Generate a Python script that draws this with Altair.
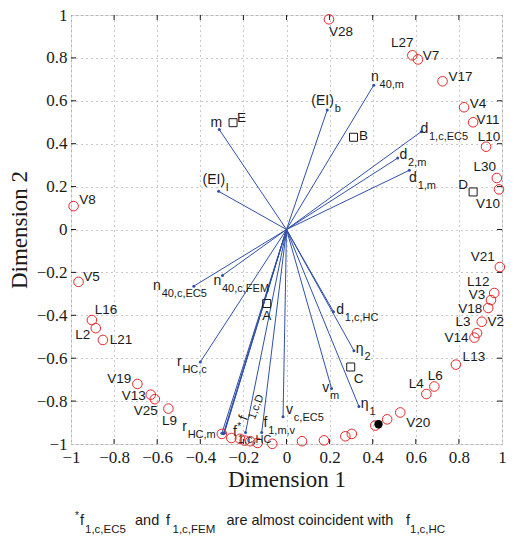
import altair as alt
import pandas as pd
import math

W, H = 431, 429
SX, SY = W / 2.0, H / 2.0

BLUE = "#3150a8"
RED = "#e8262b"
INK = "#1a1a1a"
SANS = "Liberation Sans"
SERIF = "Liberation Serif"

# ---------------- data ----------------
# variables (lines from origin)
var_main = ["m", "(EI)", "(EI)", "n", "d", "d", "d", "n", "n", "r", "r", "f", "", "", "f", "f", "v", "v", "η", "η", "d"]
var_sub = ["", "l", "b", "40,m", "1,c,EC5", "2,m", "1,m", "40,c,EC5", "40,c,FEM", "HC,c", "HC,m",
           "1,c,HC", "", "", "1,c,D", "1,m,v", "c,EC5", "m", "1", "2", "1,c,HC"]
var_sup = ["", "", "", "", "", "", "", "", "", "", "", "*", "", "", "", "", "", "", "", "", ""]
var_x = [-0.312, -0.315, 0.189, 0.405, 0.625, 0.516, 0.570, -0.430, -0.297, -0.400, -0.300,
         -0.290, -0.293, -0.288, -0.190, -0.115, -0.016, 0.209, 0.336, 0.313, 0.218]
var_y = [0.466, 0.178, 0.557, 0.673, 0.456, 0.333, 0.276, -0.264, -0.214, -0.618, -0.950,
         -0.950, -0.952, -0.948, -0.946, -0.946, -0.873, -0.741, -0.825, -0.565, -0.383]

# objects (squares)
obj_name = ["A", "B", "C", "D", "E"]
obj_x = [-0.092, 0.311, 0.298, 0.866, -0.248]
obj_y = [-0.345, 0.430, -0.641, 0.175, 0.498]

# observations (circles)
obs_name = ["V28", "L27", "V7", "V17", "V4", "V11", "L10", "L30", "V10", "V8", "V5", "L16", "L2",
            "L21", "V19", "V13", "V25", "L9", "V21", "L12", "V3", "V18", "V2", "L3", "V14", "L13",
            "L6", "L4", "V20",
            "", "", "", "", "", "", "", "", "", "", "", "", ""]
obs_x = [0.197, 0.584, 0.610, 0.724, 0.824, 0.866, 0.926, 0.976, 0.986, -0.988, -0.965, -0.903, -0.885,
         -0.852, -0.692, -0.630, -0.611, -0.548, 0.990, 0.964, 0.949, 0.936, 0.906, 0.884, 0.872, 0.786,
         0.686, 0.649, 0.528,
         -0.300, -0.256, -0.216, -0.194, -0.168, -0.134, -0.066, 0.072, 0.174, 0.273, 0.303, 0.412, 0.467]
obs_y = [0.980, 0.812, 0.793, 0.691, 0.570, 0.500, 0.386, 0.240, 0.187, 0.109, -0.244, -0.422, -0.460,
         -0.515, -0.720, -0.770, -0.791, -0.835, -0.175, -0.296, -0.329, -0.366, -0.430, -0.483, -0.504, -0.630,
         -0.732, -0.767, -0.853,
         -0.953, -0.972, -0.976, -0.984, -0.987, -0.995, -0.999, -0.987, -0.983, -0.964, -0.953, -0.914, -0.885]

# highlighted observation (filled black)
hl_x = [0.427]
hl_y = [-0.908]

axis_ticks = [-1, -0.8, -0.6, -0.4, -0.2, 0, 0.2, 0.4, 0.6, 0.8, 1]
inner_ticks = [-0.8, -0.6, -0.4, -0.2, 0, 0.2, 0.4, 0.6, 0.8]

# ---------------- layout (pixel offsets of labels) ----------------
var_jx = [3, 6.5, 6.7, 5, 7, 9.5, 7.5, -33, -1.3, -18.7, -35, 13, 0, 0, 2.7, 5.7, 10, -2.3, 9.7, 9.7, 10.5]
var_jy = [-3, -7, -5, -4.6, 1, 1, 12, 3.7, 9.7, 4.3, -2, 3, 0, 0, -14.7, -5, -2.4, 4, 2, 2.7, 2.7]
var_rot = [False] * 14 + [True] + [False] * 6

obj_dx = [0, 10, 8, -10, 8.5]
obj_dy = [12.5, -1, 12, -7, -5]

obs_dx = [12, -10, 13, 18, 14, 15, 3, -12, -11, 14, 13, 14, -13, 18, -18, -17, -9, 1, -17, -16, -14, -18,
          14, -14, -18, 18, 1, -10, 18] + [0] * 13
obs_dy = [13, -12, -3, -4, -3, -2, -10, -11, 15, -6, -5, -10, 7, 0, -5, 1, 12, 12, -10, -11, -5, 1,
          0, -11, 0, -8, -11, -10, 11] + [0] * 13

# ---------------- tables ----------------
var_df = pd.DataFrame({"main": var_main, "sub": var_sub, "sup": var_sup, "x": var_x, "y": var_y,
                       "jx": var_jx, "jy": var_jy, "rot": var_rot})
var_df["x0"] = 0.0
var_df["y0"] = 0.0
ROT = 290
ux, uy = math.sin(math.radians(70)), math.cos(math.radians(70))  # text-"down" direction for rotated text


def place(df, dxcol, dycol, extra_dx=0.0, extra_dy=0.0):
    out = df.copy()
    out["lx"] = out["x"] + (out[dxcol] + extra_dx) / SX
    out["ly"] = out["y"] - (out[dycol] + extra_dy) / SY
    return out


flat = var_df[~var_df["rot"]]
rot = var_df[var_df["rot"]]

main_df = place(flat[flat["main"] != ""], "jx", "jy")
sub_df = place(flat[flat["sub"] != ""], "jx", "jy", 0.8, 7)
sup_df = place(flat[flat["sup"] != ""], "jx", "jy", 0.3, -6)
rmain_df = place(rot, "jx", "jy")
rsub_df = place(rot, "jx", "jy", 7 * ux, 7 * uy)

obj_df = pd.DataFrame({"name": obj_name, "x": obj_x, "y": obj_y, "dx": obj_dx, "dy": obj_dy})
obj_lab = place(obj_df, "dx", "dy")
obs_df = pd.DataFrame({"name": obs_name, "x": obs_x, "y": obs_y, "dx": obs_dx, "dy": obs_dy})
obs_lab = place(obs_df[obs_df["name"] != ""], "dx", "dy")
hl_df = pd.DataFrame({"x": hl_x, "y": hl_y})
tick_df = pd.DataFrame({"t": inner_ticks})

# ---------------- encodings ----------------
xs = alt.Scale(domain=[-1, 1], nice=False, zero=False)
ys = alt.Scale(domain=[-1, 1], nice=False, zero=False)
common_axis = dict(values=axis_ticks, format=".1~f", grid=True, gridDash=[1, 4], gridColor="#777",
                   gridWidth=0.8, ticks=False, domain=False, labelFont=SERIF, labelFontSize=17,
                   labelColor=INK, labelOverlap=False, labelFlush=False, titleFont=SERIF,
                   titleFontSize=23, titleFontWeight="normal", titleColor=INK)
xaxis = alt.Axis(title="Dimension 1", labelPadding=5, titlePadding=3, **common_axis)
yaxis = alt.Axis(title="Dimension 2", labelPadding=4, titlePadding=5, **common_axis)


def X(f):
    return alt.X(f, type="quantitative", scale=xs, axis=xaxis)


def Y(f):
    return alt.Y(f, type="quantitative", scale=ys, axis=yaxis)


layers = []

# inward ticks on four sides
layers.append(alt.Chart(tick_df).mark_rule(color=INK, strokeWidth=1).encode(
    x=X("t"), y=alt.value(H), y2=alt.value(H - 5)))
layers.append(alt.Chart(tick_df).mark_rule(color=INK, strokeWidth=1).encode(
    x=X("t"), y=alt.value(0), y2=alt.value(5)))
layers.append(alt.Chart(tick_df).mark_rule(color=INK, strokeWidth=1).encode(
    y=Y("t"), x=alt.value(0), x2=alt.value(5)))
layers.append(alt.Chart(tick_df).mark_rule(color=INK, strokeWidth=1).encode(
    y=Y("t"), x=alt.value(W), x2=alt.value(W - 5)))

# loading lines and end dots
layers.append(alt.Chart(var_df).mark_rule(color=BLUE, strokeWidth=1).encode(
    x=X("x0"), y=Y("y0"), x2="x:Q", y2="y:Q"))
layers.append(alt.Chart(var_df).mark_point(shape="circle", filled=True, size=9, color=BLUE, opacity=1).encode(
    x=X("x"), y=Y("y")))

# observations
layers.append(alt.Chart(obs_df).mark_point(shape="circle", filled=False, size=92, color=RED,
                                           strokeWidth=1, opacity=1).encode(x=X("x"), y=Y("y")))
layers.append(alt.Chart(hl_df).mark_point(shape="circle", filled=True, size=70, color="black",
                                          opacity=1).encode(x=X("x"), y=Y("y")))
# objects
layers.append(alt.Chart(obj_df).mark_point(shape="square", filled=False, size=64, color=INK,
                                           strokeWidth=1, opacity=1).encode(x=X("x"), y=Y("y")))

# labels
lab = dict(font=SANS, color=INK)
layers.append(alt.Chart(obs_lab).mark_text(fontSize=13.5, align="center", baseline="middle", **lab).encode(
    x=X("lx"), y=Y("ly"), text="name:N"))
layers.append(alt.Chart(obj_lab).mark_text(fontSize=13.5, align="center", baseline="middle", **lab).encode(
    x=X("lx"), y=Y("ly"), text="name:N"))
layers.append(alt.Chart(main_df).mark_text(fontSize=14, align="right", baseline="alphabetic", **lab).encode(
    x=X("lx"), y=Y("ly"), text="main:N"))
layers.append(alt.Chart(sub_df).mark_text(fontSize=11, align="left", baseline="alphabetic", **lab).encode(
    x=X("lx"), y=Y("ly"), text="sub:N"))
layers.append(alt.Chart(sup_df).mark_text(fontSize=10, align="left", baseline="alphabetic", **lab).encode(
    x=X("lx"), y=Y("ly"), text="sup:N"))
layers.append(alt.Chart(rmain_df).mark_text(fontSize=14, align="right", baseline="alphabetic", angle=ROT,
                                            **lab).encode(x=X("lx"), y=Y("ly"), text="main:N"))
layers.append(alt.Chart(rsub_df).mark_text(fontSize=11, align="left", baseline="alphabetic", angle=ROT,
                                           **lab).encode(x=X("lx"), y=Y("ly"), text="sub:N"))

# footnote
foot_text = ["*", "f", "1,c,EC5", "and", "f", "1,c,FEM", "are almost coincident with", "f", "1,c,HC"]
foot_px = [4, 9, 14, 64, 95, 101.5, 155.5, 335, 339]
foot_py = [504, 510, 518, 510, 510, 518, 510, 510, 518]
foot_fs = [10, 14.5, 11.5, 14.5, 14.5, 11.5, 14.5, 14.5, 11.5]
for t, px, py, fs in zip(foot_text, foot_px, foot_py, foot_fs):
    layers.append(alt.Chart(pd.DataFrame({"t": [t]})).mark_text(
        fontSize=fs, align="left", baseline="alphabetic", **lab).encode(
        x=alt.value(px), y=alt.value(py), text="t:N"))

chart = alt.layer(*layers).properties(
    width=W, height=H,
    padding={"left": 63, "top": 7, "right": 4, "bottom": 94},
    autosize=alt.AutoSizeParams(type="none"),
).configure_view(stroke="black", strokeWidth=1.4).configure(background="white")

chart.save("out.html", embed_options={"renderer": "svg", "actions": False})
